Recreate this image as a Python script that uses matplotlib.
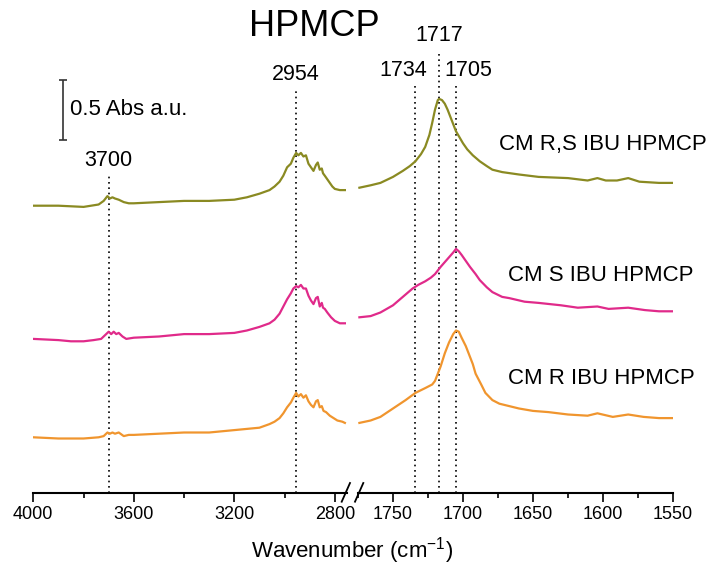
import matplotlib.pyplot as plt
from matplotlib.ticker import MultipleLocator

plt.rcParams['font.family'] = ['Liberation Sans', 'DejaVu Sans']
plt.rcParams['mathtext.fontset'] = 'custom'
plt.rcParams['mathtext.rm'] = 'Liberation Sans'
plt.rcParams['mathtext.it'] = 'Liberation Sans:italic'

# spectra, offset-stacked absorbance (a.u.)
# high wavenumber window 4000-2750 cm-1
wn_hi_rs = [4000, 3900, 3800, 3740, 3720, 3705, 3695, 3685, 3675, 3660, 3640, 3620, 3600,
            3500, 3400, 3300, 3200, 3150, 3100, 3060, 3040, 3020, 3005, 2990, 2975, 2965,
            2954, 2945, 2935, 2925, 2915, 2905, 2895, 2885, 2875, 2868, 2860, 2852, 2847,
            2840, 2830, 2820, 2810, 2800, 2780, 2760]
abs_hi_rs = [2.39, 2.39, 2.38, 2.40, 2.43, 2.47, 2.45, 2.46, 2.45, 2.44, 2.42, 2.41, 2.41,
             2.42, 2.43, 2.43, 2.44, 2.46, 2.49, 2.52, 2.55, 2.59, 2.64, 2.71, 2.74, 2.79,
             2.83, 2.81, 2.83, 2.80, 2.81, 2.74, 2.71, 2.68, 2.73, 2.75, 2.69, 2.70, 2.66,
             2.64, 2.61, 2.58, 2.55, 2.53, 2.52, 2.52]

wn_hi_s = [4000, 3900, 3850, 3800, 3760, 3730, 3715, 3700, 3690, 3680, 3670, 3660, 3645,
           3630, 3600, 3500, 3400, 3300, 3200, 3150, 3100, 3060, 3040, 3020, 3005, 2990,
           2975, 2965, 2954, 2945, 2935, 2925, 2915, 2905, 2895, 2885, 2875, 2868, 2860,
           2852, 2847, 2840, 2830, 2815, 2800, 2780, 2760]
abs_hi_s = [1.28, 1.27, 1.26, 1.26, 1.27, 1.28, 1.31, 1.34, 1.32, 1.34, 1.32, 1.33, 1.30,
            1.28, 1.29, 1.30, 1.32, 1.32, 1.33, 1.35, 1.38, 1.41, 1.44, 1.49, 1.55, 1.61,
            1.66, 1.70, 1.72, 1.71, 1.73, 1.70, 1.70, 1.64, 1.60, 1.57, 1.62, 1.63, 1.55,
            1.58, 1.54, 1.53, 1.50, 1.46, 1.43, 1.41, 1.41]

wn_hi_r = [4000, 3900, 3800, 3740, 3720, 3705, 3695, 3685, 3675, 3660, 3640, 3620, 3600,
           3500, 3400, 3300, 3200, 3150, 3100, 3060, 3040, 3020, 3005, 2990, 2975, 2965,
           2954, 2945, 2935, 2925, 2915, 2905, 2895, 2885, 2875, 2868, 2860, 2852, 2845,
           2835, 2820, 2805, 2790, 2770, 2760]
abs_hi_r = [0.46, 0.45, 0.45, 0.46, 0.47, 0.50, 0.49, 0.50, 0.49, 0.50, 0.47, 0.48, 0.48,
            0.49, 0.50, 0.50, 0.52, 0.53, 0.54, 0.57, 0.59, 0.62, 0.66, 0.71, 0.75, 0.79,
            0.83, 0.80, 0.82, 0.79, 0.81, 0.76, 0.73, 0.71, 0.76, 0.77, 0.71, 0.72, 0.68,
            0.67, 0.64, 0.62, 0.60, 0.59, 0.58]

# carbonyl window 1775-1550 cm-1
wn_lo_rs = [1774, 1766, 1759, 1750, 1743, 1738, 1734, 1730, 1727, 1724, 1722, 1720, 1718,
            1717, 1715, 1713, 1711, 1708, 1705, 1702, 1700, 1697, 1693, 1688, 1683, 1679,
            1672, 1660, 1646, 1625, 1611, 1604, 1598, 1590, 1582, 1574, 1560, 1550]
abs_lo_rs = [2.54, 2.56, 2.58, 2.63, 2.68, 2.72, 2.76, 2.82, 2.88, 2.98, 3.08, 3.19, 3.27,
             3.28, 3.27, 3.24, 3.19, 3.10, 3.01, 2.95, 2.91, 2.86, 2.81, 2.76, 2.72, 2.69,
             2.67, 2.65, 2.63, 2.62, 2.60, 2.62, 2.60, 2.60, 2.62, 2.59, 2.58, 2.58]

wn_lo_s = [1774, 1766, 1759, 1750, 1743, 1736, 1732, 1727, 1723, 1720, 1716, 1713, 1710,
           1707, 1705, 1703, 1701, 1698, 1695, 1691, 1688, 1683, 1679, 1672, 1667, 1656,
           1646, 1630, 1618, 1604, 1596, 1582, 1570, 1560, 1550]
abs_lo_s = [1.46, 1.47, 1.50, 1.56, 1.63, 1.70, 1.73, 1.76, 1.79, 1.82, 1.88, 1.92, 1.96,
            2.00, 2.03, 2.01, 1.98, 1.93, 1.88, 1.82, 1.77, 1.71, 1.67, 1.63, 1.62, 1.59,
            1.58, 1.56, 1.54, 1.55, 1.53, 1.54, 1.52, 1.51, 1.51]

wn_lo_r = [1774, 1766, 1759, 1750, 1741, 1734, 1727, 1722, 1720, 1718, 1716, 1713, 1710,
           1707, 1705, 1703, 1701, 1698, 1696, 1693, 1691, 1687, 1684, 1679, 1674, 1667,
           1660, 1650, 1639, 1625, 1611, 1604, 1593, 1582, 1571, 1560, 1550]
abs_lo_r = [0.58, 0.60, 0.63, 0.70, 0.77, 0.83, 0.87, 0.90, 0.93, 0.99, 1.05, 1.16, 1.25,
            1.32, 1.35, 1.34, 1.29, 1.22, 1.16, 1.07, 0.99, 0.90, 0.83, 0.77, 0.74, 0.72,
            0.70, 0.68, 0.67, 0.65, 0.64, 0.66, 0.63, 0.65, 0.63, 0.62, 0.62]

series_names = ['CM R,S IBU HPMCP', 'CM S IBU HPMCP', 'CM R IBU HPMCP']
series_colors = ['#8a8a22', '#e02a8a', '#f0952e']
name_pos = [(1674, 2.90), (1668, 1.81), (1668, 0.95)]

# marked bands: wavenumber, top of guide line, label x, label y
bands_hi = [(3700, 2.66, 3700, 2.77), (2954, 3.37, 2954, 3.48)]
bands_lo = [(1734, 3.39, 1743, 3.52), (1717, 3.66, 1717, 3.81), (1705, 3.41, 1696.5, 3.52)]

fig = plt.figure(figsize=(7.2, 5.71), dpi=100)
bottom = 1 - 492.5 / 571
height = 492.5 / 571
ax1 = fig.add_axes([33.3 / 720, bottom, (347.4 - 33.3) / 720, height])
ax2 = fig.add_axes([358 / 720, bottom, (673 - 358) / 720, height])

ax1.set_xlim(4000, 2750)
ax2.set_xlim(1775, 1550)
for ax in (ax1, ax2):
    ax.set_ylim(0, 492.5 / 120)
    ax.patch.set_visible(False)
    for s in ('top', 'left', 'right'):
        ax.spines[s].set_visible(False)
    ax.spines['bottom'].set_linewidth(1.5)
    ax.set_yticks([])
    ax.tick_params(axis='x', which='major', length=6.5, width=1.2, labelsize=13, pad=3.5)
    ax.tick_params(axis='x', which='minor', length=3.5, width=1.2)

ax1.xaxis.set_major_locator(MultipleLocator(400))
ax1.xaxis.set_minor_locator(MultipleLocator(200))
ax2.xaxis.set_major_locator(MultipleLocator(50))
ax2.xaxis.set_minor_locator(MultipleLocator(25))

hi = [(wn_hi_rs, abs_hi_rs), (wn_hi_s, abs_hi_s), (wn_hi_r, abs_hi_r)]
lo = [(wn_lo_rs, abs_lo_rs), (wn_lo_s, abs_lo_s), (wn_lo_r, abs_lo_r)]
for (xh, yh), (xl, yl), c, name, (tx, ty) in zip(hi, lo, series_colors, series_names, name_pos):
    ax1.plot(xh, yh, color=c, lw=1.6, solid_joinstyle='round')
    ax2.plot(xl, yl, color=c, lw=1.6, solid_joinstyle='round')
    ax2.text(tx, ty, name, fontsize=16, va='center', ha='left', clip_on=False)

for ax, bands in ((ax1, bands_hi), (ax2, bands_lo)):
    for w, top, lx, ly in bands:
        ax.plot([w, w], [0, top], color='black', lw=1.2, ls=(0, (1, 2.2)), zorder=1)
        ax.text(lx, ly, str(w), fontsize=15.5, ha='center', va='center')

# scale bar
ax1.errorbar([3882], [3.19], yerr=[[0.25], [0.25]], color='#333333', lw=1.2,
             capsize=3, capthick=1.2)
ax1.text(3854, 3.19, '0.5 Abs a.u.', fontsize=16, va='center', ha='left')

# axis break marks
for x0 in (341.7, 355.0):
    fig.add_artist(plt.Line2D([x0 / 720, (x0 + 8.3) / 720],
                              [1 - 501.7 / 571, 1 - 483 / 571],
                              color='black', lw=1.3))

fig.text(314 / 720, 1 - 26 / 571, 'HPMCP', fontsize=26, ha='center', va='center')
fig.text(352 / 720, 1 - 551 / 571, r'Wavenumber (cm$^{-1}$)', fontsize=16,
         ha='center', va='center')

fig.savefig('out.png', dpi=100)
